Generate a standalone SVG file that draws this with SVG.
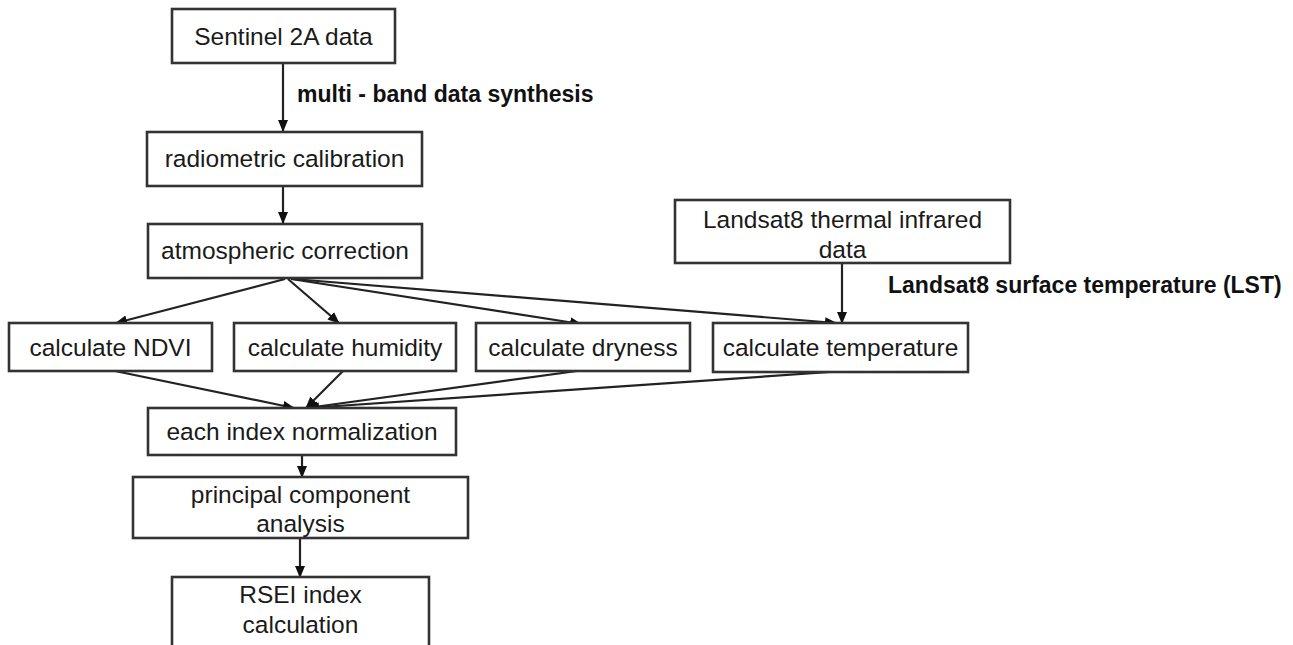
<svg xmlns="http://www.w3.org/2000/svg" width="1293" height="645" viewBox="0 0 1293 645">
<style>
.box{fill:#fff;stroke:#333;stroke-width:2.6}
.t{font-family:"Liberation Sans",Arial,sans-serif;font-size:24.5px;fill:#1a1a1a;text-anchor:middle}
.lbl{font-family:"Liberation Sans",Arial,sans-serif;font-size:23px;font-weight:bold;fill:#111}
.c{fill:none;stroke:#222;stroke-width:2.2}
</style>
<defs>
<marker id="ah" markerWidth="12" markerHeight="12" refX="11" refY="6" orient="auto" markerUnits="userSpaceOnUse">
<path d="M0,1 L12,6 L0,11 Z" fill="#111"/>
</marker>
</defs>
<rect width="1293" height="645" fill="#fff"/>
<g id="connectors">
<line class="c" x1="283" y1="63" x2="283" y2="131" marker-end="url(#ah)"/>
<line class="c" x1="283" y1="186" x2="283" y2="223" marker-end="url(#ah)"/>
<line class="c" x1="285" y1="279" x2="116" y2="323" marker-end="url(#ah)"/>
<line class="c" x1="288" y1="279" x2="339" y2="323" marker-end="url(#ah)"/>
<line class="c" x1="291" y1="279" x2="581" y2="324" marker-end="url(#ah)"/>
<line class="c" x1="293" y1="279" x2="836" y2="323" marker-end="url(#ah)"/>
<line class="c" x1="842" y1="263" x2="842" y2="323" stroke="#444" marker-end="url(#ah)"/>
<line class="c" x1="115" y1="371" x2="294" y2="408" marker-end="url(#ah)"/>
<line class="c" x1="343" y1="371" x2="306" y2="408" marker-end="url(#ah)"/>
<line class="c" x1="577" y1="371" x2="307" y2="408" marker-end="url(#ah)"/>
<line class="c" x1="830" y1="372" x2="308" y2="408" marker-end="url(#ah)"/>
<line class="c" x1="302" y1="455" x2="302" y2="477" marker-end="url(#ah)"/>
<line class="c" x1="300" y1="538" x2="300" y2="577" marker-end="url(#ah)"/>
</g>
<g id="sentinel"><rect class="box" x="172" y="9" width="223" height="54"/><text class="t" x="283.5" y="44.5">Sentinel 2A data</text></g>
<g id="radiometric"><rect class="box" x="147" y="132" width="275" height="54"/><text class="t" x="284.5" y="167">radiometric calibration</text></g>
<g id="atmospheric"><rect class="box" x="148" y="224" width="274" height="54"/><text class="t" x="285" y="259">atmospheric correction</text></g>
<g id="landsat"><rect class="box" x="675" y="200" width="335" height="63"/><text class="t" x="842.5" y="228">Landsat8 thermal infrared</text><text class="t" x="842.5" y="258">data</text></g>
<g id="ndvi"><rect class="box" x="9" y="323" width="203" height="48"/><text class="t" x="110.5" y="355.5">calculate NDVI</text></g>
<g id="humidity"><rect class="box" x="234" y="323" width="222" height="48"/><text class="t" x="345" y="355.5">calculate humidity</text></g>
<g id="dryness"><rect class="box" x="476" y="323" width="214" height="48"/><text class="t" x="583" y="355.5">calculate dryness</text></g>
<g id="temperature"><rect class="box" x="713" y="323" width="255" height="49"/><text class="t" x="840.5" y="356">calculate temperature</text></g>
<g id="normalization"><rect class="box" x="148" y="408" width="308" height="47"/><text class="t" x="302" y="440">each index normalization</text></g>
<g id="pca"><rect class="box" x="133" y="477" width="335" height="61"/><text class="t" x="300.5" y="503">principal component</text><text class="t" x="300.5" y="532">analysis</text></g>
<g id="rsei"><rect class="box" x="172" y="577" width="257" height="80"/><text class="t" x="300.5" y="603">RSEI index</text><text class="t" x="300.5" y="633">calculation</text></g>
<g id="labels">
<text class="lbl" x="297" y="102">multi - band data synthesis</text>
<text class="lbl" x="888" y="293">Landsat8 surface temperature (LST)</text>
</g>
</svg>
